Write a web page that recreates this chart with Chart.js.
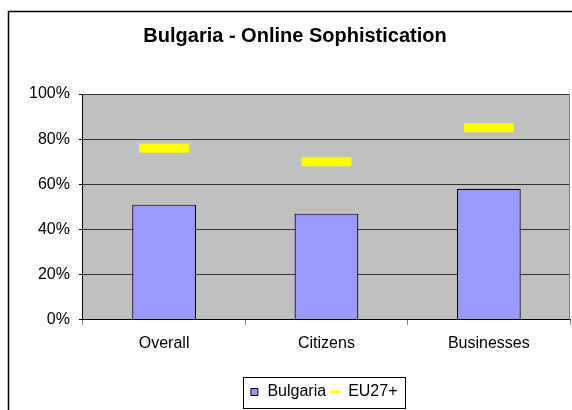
<!DOCTYPE html>
<html>
<head>
<meta charset="utf-8">
<script src="https://cdn.jsdelivr.net/npm/chart.js@4.4.1/dist/chart.umd.min.js"></script>
<style>
  html, body { margin: 0; padding: 0; background: #fff; overflow: hidden; }
  #wrap { width: 572px; height: 410px; position: relative; }
  canvas { display: block; }
</style>
</head>
<body>
<div id="wrap"><canvas id="soph"></canvas></div>
<script>
// Data (fractions of 1)
const categories = ['Overall', 'Citizens', 'Businesses'];
const bulgaria = [0.51, 0.47, 0.58];
const eu27 = [0.76, 0.70, 0.85];
const yTicks = [0, 0.2, 0.4, 0.6, 0.8, 1.0];

const barColor = '#9999FF';
const yellow = '#FFFF00';

Chart.defaults.font.family = '"Liberation Sans", Arial, sans-serif';
Chart.defaults.font.size = 16;
Chart.defaults.color = '#000';

// grey plot background + outer frame (only top and left edges are in view)
const backdrop = {
    id: 'backdrop',
    beforeDraw(chart) {
        const { ctx, chartArea: a } = chart;
        ctx.save();
        ctx.fillStyle = '#fff';
        ctx.fillRect(0, 0, chart.width, chart.height);
        ctx.fillStyle = '#C0C0C0';
        ctx.fillRect(a.left, a.top, a.right - a.left, a.bottom - a.top);
        ctx.strokeStyle = '#000';
        ctx.lineWidth = 1.5;
        ctx.beginPath();
        ctx.moveTo(8.5, chart.height);
        ctx.lineTo(8.5, 11.5);
        ctx.lineTo(chart.width, 11.5);
        ctx.stroke();
        ctx.restore();
    },
    afterDraw(chart) {
        // thin grey right edge of the plot
        const { ctx, chartArea: a } = chart;
        ctx.save();
        ctx.strokeStyle = '#808080';
        ctx.lineWidth = 1;
        ctx.beginPath();
        ctx.moveTo(Math.round(a.right) - 0.5, a.top);
        ctx.lineTo(Math.round(a.right) - 0.5, a.bottom);
        ctx.stroke();
        ctx.restore();
    }
};

// centre the legend under the plot area, not the whole canvas
const legendShift = {
    id: 'legendShift',
    afterLayout(chart) {
        const lg = chart.legend;
        if (!lg) return;
        const a = chart.chartArea;
        const dx = (a.left + a.right) / 2 - (lg.left + lg.right) / 2 - 3;
        lg.left += dx;
        lg.right += dx;
        (lg.legendHitBoxes || []).forEach(h => { h.left += dx; });
    }
};

// box around the legend
const legendBox = {
    id: 'legendBox',
    afterDraw(chart) {
        const hb = chart.legend && chart.legend.legendHitBoxes;
        if (!hb || !hb.length) return;
        const first = hb[0], last = hb[hb.length - 1];
        const cy = first.top + first.height / 2;
        const ctx = chart.ctx;
        ctx.save();
        ctx.strokeStyle = '#000';
        ctx.lineWidth = 1;
        const l = Math.round(first.left - 6) + 0.5;
        const r = Math.round(last.left + last.width + 8) + 0.5;
        const t = Math.round(cy - 15) + 0.5;
        const b = Math.round(cy + 16) + 0.5;
        ctx.strokeRect(l, t, r - l, b - t);
        ctx.restore();
    }
};

new Chart(document.getElementById('soph'), {
    type: 'bar',
    data: {
        labels: categories,
        datasets: [
            {
                type: 'bar',
                label: 'Bulgaria',
                data: bulgaria,
                backgroundColor: barColor,
                borderColor: '#000',
                borderWidth: 1.2,
                barPercentage: 0.393,
                categoryPercentage: 1
            },
            {
                type: 'line',
                label: 'EU27+',
                data: eu27,
                showLine: false,
                pointStyle: 'line',
                pointRadius: 25,
                pointHoverRadius: 25,
                pointBorderWidth: 9,
                pointHoverBorderWidth: 9,
                borderColor: yellow,
                backgroundColor: yellow
            }
        ]
    },
    options: {
        responsive: true,
        maintainAspectRatio: false,
        animation: false,
        layout: { autoPadding: false, padding: { left: 20, right: 2, top: 0, bottom: 0 } },
        plugins: {
            title: {
                display: true,
                text: 'Bulgaria - Online Sophistication',
                font: { size: 20, weight: 'bold' },
                color: '#000',
                padding: { top: 24, bottom: 46 }
            },
            legend: {
                position: 'bottom',
                labels: {
                    usePointStyle: true,
                    boxWidth: 10,
                    boxHeight: 7,
                    padding: 4,
                    color: '#000',
                    generateLabels: chart => chart.data.datasets.map((ds, i) => ({
                        text: ds.label,
                        fillStyle: i === 0 ? barColor : yellow,
                        strokeStyle: i === 0 ? '#000' : yellow,
                        lineWidth: i === 0 ? 1 : 3,
                        pointStyle: i === 0 ? 'rect' : 'line',
                        datasetIndex: i,
                        hidden: false
                    }))
                }
            },
            tooltip: { enabled: false }
        },
        scales: {
            x: {
                offset: true,
                grid: {
                    offset: true,
                    drawOnChartArea: false,
                    tickLength: 5,
                    tickColor: '#808080'
                },
                border: { color: '#000', width: 1 },
                ticks: { padding: 9, color: '#000' },
                afterFit: s => { s.height += 18; }
            },
            y: {
                min: 0,
                max: 1,
                afterBuildTicks: s => { s.ticks = yTicks.map(v => ({ value: v })); },
                grid: {
                    color: '#333',
                    tickColor: '#000',
                    tickLength: 4
                },
                border: { color: '#000', width: 1 },
                ticks: {
                    padding: 9,
                    color: '#000',
                    callback: v => Math.round(v * 100) + '%'
                }
            }
        }
    },
    plugins: [backdrop, legendShift, legendBox]
});
</script>
</body>
</html>
